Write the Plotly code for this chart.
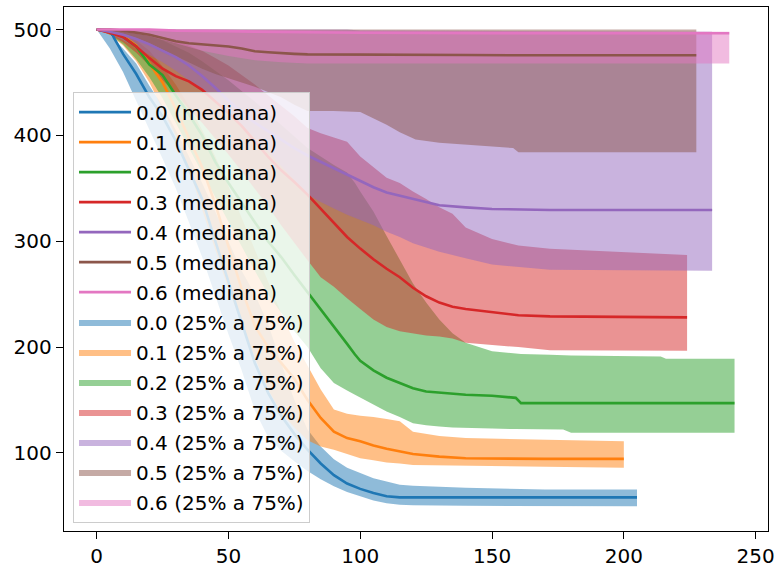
import plotly.graph_objects as go

# Surviving population over time for each parameter value:
# median curve plus the 25%-75% interquartile band.
LABELS = ["0.0", "0.1", "0.2", "0.3", "0.4", "0.5", "0.6"]

# --- 0.0 ---
T_00 = [0, 5, 10, 15, 20, 25, 30, 35, 40, 45, 50, 55, 60, 65, 70, 75, 80, 85, 90, 95, 100, 105, 110, 115, 120, 140, 170, 205]
MED_00 = [500, 499, 477, 458, 436, 418, 395, 368, 340, 300, 262, 222, 185, 157, 135, 118, 103, 90, 79, 71, 66, 62, 59, 58, 58, 58, 58, 58]
HI_00 = [500, 495, 482, 468, 447, 428, 405, 380, 355, 328, 300, 272, 250, 222, 185, 150, 122, 106, 94, 86, 81, 76, 73, 70, 69, 67, 65.5, 65.5]
LO_00 = [500, 482, 460, 432, 405, 378, 350, 318, 285, 248, 212, 178, 140, 115, 102, 92, 83, 75, 68.5, 63, 59, 55, 52.5, 51, 50.5, 50, 49.6, 49.6]

# --- 0.1 ---
T_01 = [0, 5, 10, 15, 20, 25, 30, 35, 40, 45, 50, 55, 60, 65, 70, 75, 80, 85, 90, 95, 100, 105, 110, 115, 120, 130, 140, 170, 200]
MED_01 = [500, 498, 494, 485, 468, 450, 425, 398, 370, 335, 295, 255, 220, 200, 185, 170, 150, 133, 120, 114, 111, 107, 104, 101.5, 99, 96.5, 95, 94.3, 94.3]
HI_01 = [500, 499, 496, 490, 480, 465, 448, 428, 405, 380, 352, 322, 292, 262, 232, 205, 182, 160, 141, 137, 135, 134, 132, 130, 120, 116, 114, 112.5, 111]
LO_01 = [500, 495, 485, 470, 450, 425, 400, 368, 330, 292, 255, 222, 190, 160, 138, 124, 112, 106, 103, 99, 95, 93, 91, 90, 88.5, 88, 87.5, 87, 86]

# --- 0.2 ---
T_02 = [0, 5, 10, 15, 20, 25, 30, 35, 40, 45, 50, 55, 60, 65, 70, 75, 80, 85, 90, 95, 98, 100, 105, 110, 115, 120, 125, 130, 135, 140, 150, 159, 161, 172, 177, 180, 214, 216, 242]
MED_02 = [500, 498, 493, 484, 467, 457, 438, 420, 400, 375, 355, 336, 318, 300, 285, 268, 252, 236, 219, 203, 193, 187, 178, 171, 166, 161, 158, 157, 156, 155, 154, 152, 147, 147, 147, 147, 147, 147, 147]
HI_02 = [500, 500, 499, 497, 494, 490, 484, 478, 470, 461, 452, 442, 432, 421, 410, 399, 388, 380, 372, 365, 355, 347, 328, 305, 283, 260, 242, 226, 213, 204, 196, 194, 193.5, 192.7, 192, 192, 191, 189, 189]
LO_02 = [500, 495, 486, 472, 455, 435, 412, 388, 365, 342, 318, 295, 272, 250, 232, 215, 200, 180, 166, 159, 155, 153, 146, 139, 134, 128, 126, 125, 124, 123.5, 123, 122.5, 122.5, 122, 122, 119, 119, 119, 119]

# --- 0.3 ---
T_03 = [0, 5, 10, 15, 20, 25, 30, 35, 40, 45, 50, 55, 60, 65, 70, 75, 80, 85, 90, 95, 100, 105, 110, 115, 120, 125, 130, 135, 140, 150, 160, 172, 224]
MED_03 = [500, 497, 493, 484, 473, 463, 456, 451, 443, 432, 421, 409, 394, 380, 367, 356, 344, 331, 317, 304, 293, 283, 274, 266, 256, 248, 242, 238, 236, 233, 230, 229, 228]
HI_03 = [500, 500, 499, 498, 496, 493, 490, 485, 480, 473, 466, 457, 448, 438, 428, 418, 407, 402, 398, 394, 380, 370, 360, 355, 347, 340, 332, 326, 313, 302, 296, 293, 287]
LO_03 = [500, 495, 488, 478, 466, 452, 440, 425, 412, 397, 382, 366, 350, 333, 315, 298, 282, 266, 257, 246, 236, 226, 219, 215, 213, 211, 210, 208, 204, 202, 200, 197, 196.5]

# --- 0.4 ---
T_04 = [0, 5, 10, 15, 20, 25, 30, 35, 40, 45, 50, 55, 60, 65, 70, 75, 80, 85, 90, 95, 100, 105, 110, 115, 120, 125, 130, 140, 150, 172, 233.5]
MED_04 = [500, 498, 495, 491, 486, 480, 474, 466, 456, 445, 433, 422, 412, 404, 396, 388, 381, 375, 369, 363, 357, 351, 346, 343, 340, 337, 334, 332, 330.5, 329.5, 329.5]
HI_04 = [500, 500, 500, 500, 500, 500, 500, 500, 500, 500, 500, 500, 500, 500, 500, 500, 500, 500, 500, 500, 499, 499, 499, 499, 499, 499, 499, 499, 498.5, 498.5, 498]
LO_04 = [500, 496, 490, 483, 476, 469, 461, 452, 443, 433, 422, 410, 398, 385, 371, 357, 344, 337, 331, 325, 320, 315, 309, 304, 298, 294, 290, 284, 278, 273, 272]

# --- 0.5 ---
T_05 = [0, 5, 10, 15, 20, 25, 30, 35, 40, 45, 50, 55, 60, 65, 70, 75, 80, 90, 100, 105, 110, 115, 121, 130, 140, 158, 160, 227.5]
MED_05 = [500, 500, 499, 497, 495, 492, 489, 487, 486, 485, 484, 482, 479.5, 478.5, 477.5, 477, 476.5, 476.5, 476, 476, 476, 476, 476, 476, 476, 475.7, 475.7, 475.7]
HI_05 = [500, 500, 500, 500, 500, 500, 500, 500, 500, 500, 500, 500, 500, 500, 500, 500, 500, 500, 500, 500, 500, 500, 500, 500, 500, 500, 500, 500]
LO_05 = [500, 499, 496, 492, 487, 481, 475, 469, 463, 458, 454, 450, 446, 441, 436, 429, 423, 423, 422, 416, 410, 403, 396, 393, 391, 388, 384, 384]

# --- 0.6 ---
T_06 = [0, 10, 20, 30, 40, 50, 60, 70, 80, 100, 150, 240]
MED_06 = [500, 500, 500, 499, 499, 498.5, 498, 497.5, 497.5, 497, 496.5, 496.5]
HI_06 = [500, 500, 500, 500, 500, 500, 500, 500, 499.5, 499, 498.5, 498]
LO_06 = [500, 498, 494, 487, 480, 475, 471, 469, 468, 468, 468, 468]

TIMES = [T_00, T_01, T_02, T_03, T_04, T_05, T_06]
MEDIANS = [MED_00, MED_01, MED_02, MED_03, MED_04, MED_05, MED_06]
UPPER = [HI_00, HI_01, HI_02, HI_03, HI_04, HI_05, HI_06]
LOWER = [LO_00, LO_01, LO_02, LO_03, LO_04, LO_05, LO_06]

COLORS = [(31, 119, 180), (255, 127, 14), (44, 160, 44), (214, 39, 40),
          (148, 103, 189), (140, 86, 75), (227, 119, 194)]

FONT = dict(family="DejaVu Sans", size=20, color="#000000")

fig = go.Figure()

# interquartile bands first so every median line sits on top of them
for i, lab in enumerate(LABELS):
    r, g, b = COLORS[i]
    t = TIMES[i]
    fig.add_trace(go.Scatter(
        x=list(t) + list(t[::-1]),
        y=list(UPPER[i]) + list(LOWER[i][::-1]),
        mode="lines",
        fill="toself",
        fillcolor=f"rgba({r},{g},{b},0.5)",
        line=dict(width=0, color=f"rgba({r},{g},{b},0.5)"),
        name=f"{lab} (25% a 75%)",
        legendgroup=f"band{i}",
        legendrank=8 + i,
        hoverinfo="skip",
    ))

for i, lab in enumerate(LABELS):
    r, g, b = COLORS[i]
    fig.add_trace(go.Scatter(
        x=TIMES[i],
        y=MEDIANS[i],
        mode="lines",
        line=dict(color=f"rgb({r},{g},{b})", width=2.6),
        name=f"{lab} (mediana)",
        legendgroup=f"med{i}",
        legendrank=1 + i,
    ))

axis_style = dict(
    showgrid=False, zeroline=False, automargin=False,
    showline=True, linecolor="#000000", linewidth=1.4, mirror=True,
    ticks="outside", ticklen=7, tickwidth=1.4, tickcolor="#000000",
    tickfont=FONT,
)

fig.update_layout(
    width=776, height=567,
    margin=dict(l=64, r=8, t=7, b=36, autoexpand=False),
    paper_bgcolor="white", plot_bgcolor="white",
    font=FONT,
    xaxis=dict(range=[-12.4, 254.7], tickvals=[0, 50, 100, 150, 200, 250], **axis_style),
    yaxis=dict(range=[26.2, 521.3], tickvals=[100, 200, 300, 400, 500], **axis_style),
    legend=dict(
        x=0.0128, y=0.016, xanchor="left", yanchor="bottom",
        bgcolor="rgba(255,255,255,0.8)", bordercolor="#cccccc", borderwidth=1,
        font=FONT, traceorder="grouped", tracegroupgap=1, itemwidth=52,
    ),
    showlegend=True,
)

fig.write_html("out.html")
